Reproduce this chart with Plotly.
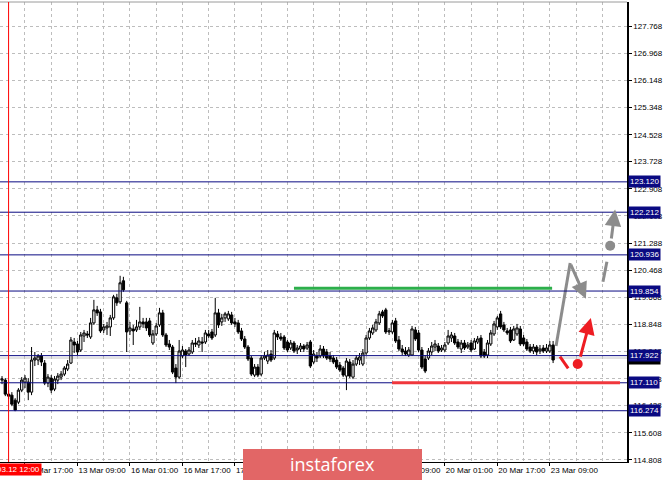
import plotly.graph_objects as go

# ---------------- data (H1 candles, bar 0 = 12 Mar 10:00) ----------------
opens = [
    117.19, 117.19, 116.77, 116.74, 116.59, 116.53, 116.89, 117.13, 117.13, 116.83,
    117.79, 117.79, 117.91, 117.70, 117.10, 117.25, 116.92, 117.19, 117.28, 117.37,
    117.52, 117.70, 118.33, 118.27, 118.09, 118.51, 118.57, 118.48, 118.90, 119.29,
    119.23, 118.69, 118.75, 118.78, 119.05, 119.65, 119.53, 120.16, 119.50, 118.66,
    118.72, 118.69, 118.78, 118.93, 118.93, 118.96, 118.30, 118.57, 118.84, 119.20,
    118.54, 118.27, 118.18, 117.55, 117.28, 117.91, 118.06, 117.97, 118.03, 118.30,
    118.24, 118.33, 118.33, 118.57, 118.63, 118.54, 119.20, 118.93, 119.05, 119.02,
    119.14, 118.93, 118.90, 118.66, 118.42, 118.18, 117.85, 117.34, 117.58, 117.37,
    117.85, 117.76, 117.97, 117.85, 118.57, 118.48, 118.48, 118.33, 118.15, 118.30,
    118.09, 118.12, 118.21, 118.15, 118.33, 117.73, 117.91, 117.91, 118.12, 118.03,
    117.91, 117.85, 117.79, 117.64, 117.55, 117.31, 117.73, 117.28, 117.67, 117.79,
    117.67, 118.00, 118.45, 118.60, 118.69, 118.90, 119.23, 119.29, 118.63, 118.63,
    118.96, 118.39, 118.12, 118.06, 117.94, 117.94, 118.69, 118.60, 118.09, 117.82,
    117.85, 118.03, 118.18, 118.21, 118.09, 118.09, 118.30, 118.45, 118.51, 118.33,
    118.12, 118.30, 118.18, 118.30, 118.12, 118.33, 118.45, 118.03, 117.94, 118.27,
    118.57, 118.78, 119.17, 118.84, 118.66, 118.69, 118.39, 118.57, 118.72, 118.45,
    118.33, 118.18, 118.06, 118.18, 118.06, 118.15, 118.06, 118.06, 118.24,
]
highs = [
    117.31, 117.25, 116.89, 116.83, 116.65, 116.95, 117.28, 117.34, 117.25, 118.18,
    118.03, 117.97, 118.00, 117.79, 117.37, 117.34, 117.31, 117.40, 117.46, 117.61,
    117.79, 118.48, 118.45, 118.36, 118.63, 118.69, 118.66, 119.05, 119.59, 119.41,
    119.32, 118.87, 118.93, 119.14, 119.74, 119.77, 120.31, 120.28, 119.56, 118.93,
    118.84, 118.99, 119.38, 119.05, 119.05, 119.05, 118.69, 118.90, 119.35, 119.29,
    118.60, 118.39, 118.24, 117.67, 118.39, 118.21, 118.12, 118.18, 118.39, 118.45,
    118.48, 118.48, 118.69, 118.69, 118.72, 119.65, 119.32, 119.17, 119.23, 119.26,
    119.23, 119.05, 118.99, 118.75, 118.51, 118.24, 117.91, 117.67, 117.67, 117.94,
    118.03, 118.09, 118.09, 118.69, 118.66, 118.60, 118.54, 118.39, 118.39, 118.36,
    118.24, 118.30, 118.27, 118.33, 118.39, 118.09, 118.03, 118.24, 118.21, 118.12,
    118.03, 117.94, 117.88, 117.73, 117.61, 117.85, 117.82, 117.79, 117.94, 118.00,
    118.12, 118.54, 118.75, 118.84, 119.02, 119.26, 119.29, 119.35, 118.75, 118.99,
    119.05, 118.51, 118.24, 118.18, 118.18, 118.81, 118.78, 118.69, 118.18, 117.94,
    118.15, 118.33, 118.39, 118.30, 118.24, 118.33, 118.69, 118.63, 118.60, 118.42,
    118.39, 118.39, 118.33, 118.39, 118.45, 118.51, 118.54, 118.12, 118.39, 118.69,
    118.96, 119.11, 119.26, 118.93, 118.75, 118.78, 118.81, 118.87, 118.81, 118.54,
    118.42, 118.27, 118.27, 118.24, 118.24, 118.24, 118.27, 118.36, 118.36,
]
lows = [
    117.07, 116.71, 116.62, 116.41, 116.26, 116.47, 116.83, 116.95, 116.59, 116.74,
    117.61, 117.64, 117.61, 117.04, 116.98, 116.80, 116.86, 117.07, 117.19, 117.31,
    117.46, 117.67, 118.00, 117.94, 118.03, 118.33, 118.45, 118.42, 118.84, 119.11,
    118.60, 118.60, 118.54, 118.51, 118.99, 119.41, 119.47, 119.83, 118.03, 118.54,
    118.24, 118.63, 118.69, 118.75, 118.66, 118.48, 118.24, 118.51, 118.78, 118.48,
    118.18, 118.09, 117.37, 117.10, 117.22, 117.85, 117.58, 117.91, 117.97, 118.18,
    118.15, 118.03, 118.27, 118.45, 118.39, 118.48, 118.75, 118.81, 118.93, 118.96,
    118.84, 118.78, 118.57, 118.36, 118.12, 117.76, 117.31, 117.28, 117.28, 117.31,
    117.79, 117.67, 117.73, 117.79, 118.39, 118.36, 118.09, 118.03, 118.09, 118.00,
    117.97, 118.03, 118.03, 118.09, 117.55, 117.67, 117.73, 117.85, 117.85, 117.79,
    117.73, 117.67, 117.52, 117.43, 117.28, 116.89, 117.25, 117.22, 117.61, 117.64,
    117.61, 117.94, 118.39, 118.54, 118.63, 118.84, 119.05, 118.57, 118.54, 118.57,
    118.30, 118.06, 117.94, 117.91, 117.88, 117.91, 118.36, 118.03, 117.52, 117.40,
    117.79, 117.94, 118.06, 118.00, 118.03, 118.03, 118.24, 118.33, 118.24, 118.12,
    118.00, 118.09, 118.12, 118.03, 118.09, 118.27, 117.85, 117.85, 117.85, 118.21,
    118.51, 118.69, 118.72, 118.63, 118.54, 118.30, 118.36, 118.51, 118.21, 118.21,
    118.06, 118.00, 117.97, 117.94, 117.97, 118.00, 118.00, 118.00, 117.70,
]
closes = [
    117.22, 116.77, 116.71, 116.47, 116.29, 116.89, 117.19, 117.25, 116.83, 117.79,
    117.85, 117.91, 117.73, 117.10, 117.28, 116.89, 117.22, 117.31, 117.37, 117.55,
    117.67, 118.39, 118.24, 118.03, 118.54, 118.60, 118.54, 118.90, 119.29, 119.20,
    118.66, 118.78, 118.81, 119.05, 119.68, 119.50, 120.10, 119.89, 118.63, 118.75,
    118.66, 118.78, 118.93, 118.87, 118.75, 118.54, 118.57, 118.81, 119.20, 118.54,
    118.24, 118.18, 117.43, 117.28, 118.06, 118.09, 117.94, 118.09, 118.30, 118.27,
    118.36, 118.30, 118.60, 118.51, 118.45, 119.20, 118.84, 119.05, 119.17, 119.17,
    118.90, 118.87, 118.63, 118.42, 118.18, 117.82, 117.37, 117.58, 117.34, 117.85,
    117.91, 117.94, 117.79, 118.60, 118.48, 118.42, 118.15, 118.09, 118.30, 118.06,
    118.15, 118.21, 118.12, 118.24, 117.61, 117.97, 117.85, 118.12, 117.91, 117.85,
    117.82, 117.73, 117.58, 117.49, 117.34, 117.76, 117.31, 117.67, 117.85, 117.88,
    118.00, 118.45, 118.66, 118.75, 118.93, 119.17, 119.11, 118.63, 118.66, 118.90,
    118.36, 118.12, 118.03, 117.97, 118.09, 118.72, 118.42, 118.09, 117.58, 117.46,
    118.06, 118.21, 118.27, 118.06, 118.15, 118.24, 118.51, 118.54, 118.30, 118.18,
    118.30, 118.15, 118.24, 118.09, 118.36, 118.42, 117.91, 117.91, 118.30, 118.60,
    118.87, 119.05, 118.78, 118.69, 118.60, 118.36, 118.72, 118.75, 118.27, 118.27,
    118.12, 118.06, 118.18, 118.03, 118.12, 118.06, 118.15, 118.24, 117.79,
]
bars = list(range(len(opens)))

# time axis labels (bar number of each label)
tick_bars = [7, 23, 39, 55, 71, 87, 103, 119, 135, 151, 167]
tick_labels = ["12 Mar 17:00", "13 Mar 09:00", "16 Mar 01:00", "16 Mar 17:00",
               "17 Mar 09:00", "18 Mar 01:00", "18 Mar 17:00", "19 Mar 09:00",
               "20 Mar 01:00", "20 Mar 17:00", "23 Mar 09:00"]
grid_bars = list(range(7, 191, 8))

# price axis labels
price_ticks = [127.768, 126.968, 126.148, 125.348, 124.528, 123.728, 122.908,
               122.108, 121.288, 120.468, 119.668, 118.848, 118.048, 117.228,
               116.428, 115.608, 114.808]

# support / resistance levels
levels = [123.120, 122.212, 120.936, 119.854, 117.922, 117.110, 116.274]
bid_price = 117.85
marker_bar = 2
marker_label = "2020.03.12 12:00"

green_level = 119.94
green_bars = [89, 167.7]
red_level = 117.11
red_bars = [118.9, 188.4]

# forecast drawings (bar, price)
gray_up_x = [168.9, 173.2]
gray_up_y = [118.21, 120.69]
gray_down_end = (178.0, 119.62)
gray_dash_x = [183.2, 184.4]
gray_dash_y = [120.13, 120.73]
gray_dot = (185.4, 121.21)
gray_arrow_start = (185.7, 121.38)
gray_arrow_end = (186.9, 122.29)
red_tick_x = [170.1, 172.6]
red_tick_y = [117.89, 117.54]
red_dot = (175.5, 117.67)
red_arrow_start = (176.2, 117.85)
red_arrow_end = (179.5, 119.05)

NAVY = "#0A0A82"
GRID = "#BDBDBD"
GRAY = "#8C8C8C"
RED = "#EE1D23"
FONT = "Liberation Sans"

fig = go.Figure()
fig.add_trace(go.Candlestick(
    x=bars, open=opens, high=highs, low=lows, close=closes,
    increasing=dict(line=dict(color="black", width=1), fillcolor="white"),
    decreasing=dict(line=dict(color="black", width=1), fillcolor="black"),
    whiskerwidth=0, hoverinfo="skip", showlegend=False,
))

# forecast lines
fig.add_trace(go.Scatter(x=gray_up_x, y=gray_up_y, mode="lines",
                         line=dict(color=GRAY, width=3), hoverinfo="skip", showlegend=False))
fig.add_trace(go.Scatter(x=gray_dash_x, y=gray_dash_y, mode="lines",
                         line=dict(color=GRAY, width=3), hoverinfo="skip", showlegend=False))
fig.add_trace(go.Scatter(x=red_tick_x, y=red_tick_y, mode="lines",
                         line=dict(color=RED, width=3), hoverinfo="skip", showlegend=False))
fig.add_trace(go.Scatter(x=[gray_dot[0]], y=[gray_dot[1]], mode="markers",
                         marker=dict(color=GRAY, size=10), hoverinfo="skip", showlegend=False))
fig.add_trace(go.Scatter(x=[red_dot[0]], y=[red_dot[1]], mode="markers",
                         marker=dict(color=RED, size=10), hoverinfo="skip", showlegend=False))

shapes = []
# top border
shapes.append(dict(type="line", xref="paper", yref="paper", x0=0, x1=1, y0=1, y1=1,
                   line=dict(color="#9A9A9A", width=1)))
# level lines
for lv in levels:
    shapes.append(dict(type="line", xref="paper", yref="y", x0=0, x1=1, y0=lv, y1=lv,
                       line=dict(color=NAVY, width=1)))
shapes.append(dict(type="line", xref="paper", yref="y", x0=0, x1=1, y0=bid_price, y1=bid_price,
                   line=dict(color="#C8C8C8", width=1), layer="below"))
# green / red target lines
shapes.append(dict(type="line", xref="x", yref="y", x0=green_bars[0], x1=green_bars[1],
                   y0=green_level, y1=green_level, line=dict(color="#2DAF4B", width=3)))
shapes.append(dict(type="line", xref="x", yref="y", x0=red_bars[0], x1=red_bars[1],
                   y0=red_level, y1=red_level, line=dict(color="#F0373C", width=3)))
# red vertical marker
shapes.append(dict(type="line", xref="x", yref="paper", x0=marker_bar, x1=marker_bar, y0=0, y1=1,
                   line=dict(color="#FF0000", width=1)))
# watermark box
shapes.append(dict(type="rect", xref="paper", yref="paper", x0=243 / 627, x1=422 / 627,
                   y0=-18 / 460, y1=13 / 460, fillcolor="#E26666", line=dict(width=0),
                   layer="above"))

annotations = []
# arrows
annotations.append(dict(x=gray_down_end[0], y=gray_down_end[1], ax=gray_up_x[1], ay=gray_up_y[1],
                        xref="x", yref="y", axref="x", ayref="y", text="", showarrow=True,
                        arrowhead=2, arrowsize=1.1, arrowwidth=3, arrowcolor=GRAY))
annotations.append(dict(x=gray_arrow_end[0], y=gray_arrow_end[1], ax=gray_arrow_start[0],
                        ay=gray_arrow_start[1], xref="x", yref="y", axref="x", ayref="y",
                        text="", showarrow=True, arrowhead=2, arrowsize=1.1, arrowwidth=3,
                        arrowcolor=GRAY))
annotations.append(dict(x=red_arrow_end[0], y=red_arrow_end[1], ax=red_arrow_start[0],
                        ay=red_arrow_start[1], xref="x", yref="y", axref="x", ayref="y",
                        text="", showarrow=True, arrowhead=2, arrowsize=1.1, arrowwidth=3,
                        arrowcolor=RED))
# bid price label (mostly hidden)
annotations.append(dict(x=1, xref="paper", xanchor="left", xshift=1, y=bid_price, yref="y",
                        text="117.850", showarrow=False, bgcolor="black",
                        font=dict(family=FONT, size=8, color="white"), borderpad=1))
# level labels
for lv in levels:
    annotations.append(dict(x=1, xref="paper", xanchor="left", xshift=1, y=lv, yref="y",
                            text=f"{lv:.3f}", showarrow=False, bgcolor=NAVY,
                            font=dict(family=FONT, size=8, color="white"), borderpad=1))
# time marker label
annotations.append(dict(x=marker_bar, xref="x", y=0, yref="paper", yanchor="top", yshift=-1,
                        text=marker_label, showarrow=False, bgcolor="#FF0000",
                        font=dict(family=FONT, size=8, color="white"), borderpad=1))
# watermark text
annotations.append(dict(x=332.5 / 627, xref="paper", y=-2 / 460, yref="paper",
                        xanchor="center", yanchor="middle", text="instaforex", showarrow=False,
                        font=dict(family="Open Sans", size=18, color="white")))

fig.update_layout(
    width=665, height=480,
    margin=dict(l=0, r=38, t=2, b=18, pad=0),
    paper_bgcolor="white", plot_bgcolor="white",
    showlegend=False,
    boxgap=0.3, boxgroupgap=0,
    shapes=shapes, annotations=annotations,
    xaxis=dict(
        range=[-0.62, 190.53], rangeslider=dict(visible=False),
        tickmode="array", tickvals=tick_bars, ticktext=tick_labels,
        ticklabelposition="outside right", tickangle=0,
        tickfont=dict(family=FONT, size=8, color="black"),
        ticks="outside", ticklen=3, tickcolor="black",
        showline=True, linecolor="black", linewidth=1,
        showgrid=True, gridcolor=GRID, griddash="3px,3px", gridwidth=1,
        minor=dict(tickmode="array", tickvals=grid_bars, showgrid=True, gridcolor=GRID,
                   griddash="3px,3px", ticks=""),
        zeroline=False, automargin=False, fixedrange=True,
    ),
    yaxis=dict(
        side="right", range=[114.74, 128.50],
        tickmode="array", tickvals=price_ticks,
        ticktext=[f"{p:.3f}" for p in price_ticks],
        tickfont=dict(family=FONT, size=8, color="black"),
        ticks="outside", ticklen=3, tickcolor="black",
        showline=True, linecolor="black", linewidth=1.5,
        showgrid=True, gridcolor=GRID, griddash="3px,3px", gridwidth=1,
        zeroline=False, automargin=False, fixedrange=True,
    ),
)

fig.write_html("out.html", config={"displayModeBar": False},
               post_script="document.body.style.margin='0';document.body.style.overflow='hidden';")
